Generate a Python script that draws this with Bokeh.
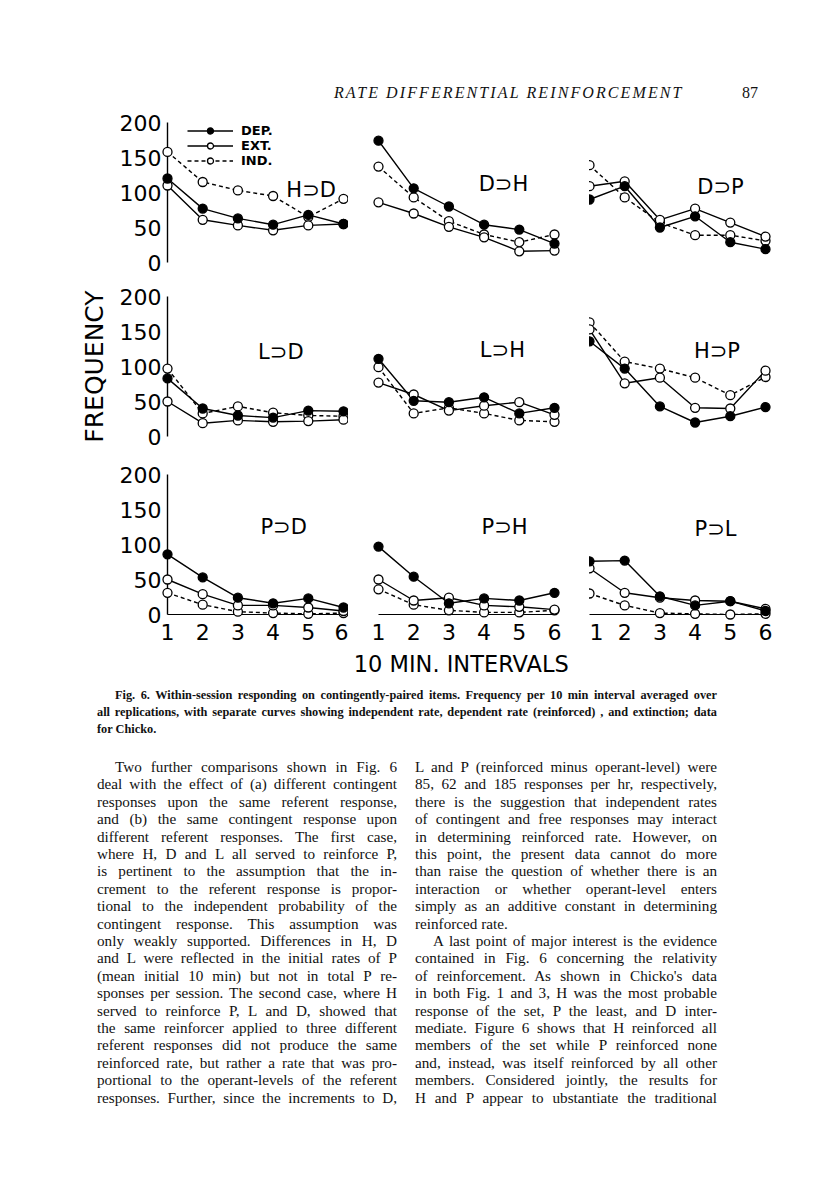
from html import escape
from bokeh.plotting import figure
from bokeh.layouts import column, row
from bokeh.models import Div, Range1d, FixedTicker, Legend, LegendItem, Label, LinearAxis
from bokeh.core.properties import value
from bokeh.embed import file_html
from bokeh.resources import INLINE

# ---------------- data ----------------
intervals = [1, 2, 3, 4, 5, 6]
y_ticks = [0, 50, 100, 150, 200]
series_names = ["DEP.", "EXT.", "IND."]

hd_dep = [120, 77, 63, 54, 68, 55]
hd_ext = [110, 61, 53, 46, 53, 55]
hd_ind = [158, 115, 103, 95, 65, 91]

dh_dep = [174, 106, 80, 54, 47, 27]
dh_ext = [86, 70, 51, 36, 16, 17]
dh_ind = [137, 93, 59, 40, 29, 40]

dp_dep = [90, 109, 50, 66, 29, 19]
dp_ext = [109, 116, 61, 77, 57, 37]
dp_ind = [139, 93, 57, 39, 39, 31]

ld_dep = [83, 40, 30, 27, 37, 36]
ld_ext = [50, 19, 23, 21, 22, 24]
ld_ind = [97, 33, 43, 34, 30, 29]

lh_dep = [111, 51, 49, 56, 33, 41]
lh_ext = [77, 60, 37, 44, 49, 31]
lh_ind = [99, 33, 41, 33, 23, 21]

hp_dep = [136, 97, 43, 20, 29, 42]
hp_ext = [153, 76, 84, 41, 40, 94]
hp_ind = [163, 107, 97, 84, 59, 85]

pd_dep = [86, 53, 24, 16, 23, 10]
pd_ext = [50, 29, 13, 13, 10, 5]
pd_ind = [31, 14, 4, 2, 1, 2]

ph_dep = [97, 54, 16, 23, 20, 31]
ph_ext = [50, 20, 24, 13, 11, 7]
ph_ind = [36, 14, 6, 3, 3, 6]

pl_dep = [76, 77, 26, 13, 19, 5]
pl_ext = [66, 31, 24, 20, 19, 8]
pl_ind = [30, 13, 2, 1, 0, 1]

panel_titles = [["H⊃D", "D⊃H", "D⊃P"],
                ["L⊃D", "L⊃H", "H⊃P"],
                ["P⊃D", "P⊃H", "P⊃L"]]
panel_series = [[(hd_dep, hd_ext, hd_ind), (dh_dep, dh_ext, dh_ind), (dp_dep, dp_ext, dp_ind)],
                [(ld_dep, ld_ext, ld_ind), (lh_dep, lh_ext, lh_ind), (hp_dep, hp_ext, hp_ind)],
                [(pd_dep, pd_ext, pd_ind), (ph_dep, ph_ext, ph_ind), (pl_dep, pl_ext, pl_ind)]]

header_text = "RATE DIFFERENTIAL REINFORCEMENT"
page_number = "87"
y_label = "FREQUENCY"
x_label = "10 MIN. INTERVALS"

caption_lines = [
    "Fig. 6. Within-session responding on contingently-paired items. Frequency per 10 min interval averaged over",
    "all replications, with separate curves showing independent rate, dependent rate (reinforced) , and extinction; data",
    "for Chicko.",
]

left_lines = [
    "Two further comparisons shown in Fig. 6",
    "deal with the effect of (a) different contingent",
    "responses upon the same referent response,",
    "and (b) the same contingent response upon",
    "different referent responses. The first case,",
    "where H, D and L all served to reinforce P,",
    "is pertinent to the assumption that the in-",
    "crement to the referent response is propor-",
    "tional to the independent probability of the",
    "contingent response. This assumption was",
    "only weakly supported. Differences in H, D",
    "and L were reflected in the initial rates of P",
    "(mean initial 10 min) but not in total P re-",
    "sponses per session. The second case, where H",
    "served to reinforce P, L and D, showed that",
    "the same reinforcer applied to three different",
    "referent responses did not produce the same",
    "reinforced rate, but rather a rate that was pro-",
    "portional to the operant-levels of the referent",
    "responses. Further, since the increments to D,",
]
right_lines = [
    "L and P (reinforced minus operant-level) were",
    "85, 62 and 185 responses per hr, respectively,",
    "there is the suggestion that independent rates",
    "of contingent and free responses may interact",
    "in determining reinforced rate. However, on",
    "this point, the present data cannot do more",
    "than raise the question of whether there is an",
    "interaction or whether operant-level enters",
    "simply as an additive constant in determining",
    "reinforced rate.",
    "A last point of major interest is the evidence",
    "contained in Fig. 6 concerning the relativity",
    "of reinforcement. As shown in Chicko's data",
    "in both Fig. 1 and 3, H was the most probable",
    "response of the set, P the least, and D inter-",
    "mediate. Figure 6 shows that H reinforced all",
    "members of the set while P reinforced none",
    "and, instead, was itself reinforced by all other",
    "members. Considered jointly, the results for",
    "H and P appear to ubstantiate the traditional",
]

# ---------------- layout / style ----------------
SANS = "DejaVu Sans"
SERIF = "Liberation Serif"
FW, FH = 176, 140
left_b = [167, 30, 0]
right_b = [5, 35, 20]
top_b = [23, 20, 24]
bot_b = [14, 14, 74]
label_pos = [[(5.08, 104), (4.55, 112), (4.72, 108)],
             [(4.22, 121), (4.52, 124), (4.62, 122)],
             [(4.30, 125), (4.58, 125), (4.58, 122)]]
DIV_HOST = {"line-height": "0px", "font-size": "0px", "display": "block", "overflow": "visible"}


def make_panel(r, c):
    p = figure(frame_width=FW, frame_height=FH,
               x_range=Range1d(1, 6), y_range=Range1d(0, 200),
               output_backend="svg", toolbar_location=None, title=None,
               x_axis_location=None, y_axis_location=None,
               min_border_left=left_b[c], min_border_right=right_b[c],
               min_border_top=top_b[r], min_border_bottom=bot_b[r],
               background_fill_color="white", border_fill_color="white")
    p.outline_line_color = None
    p.grid.grid_line_color = None

    dep, ext, ind = panel_series[r][c]
    rends = []
    for ys, dash in ((dep, "solid"), (ext, "solid"), (ind, "4 3")):
        ln = p.line(intervals, ys, line_color="black", line_width=1.4, line_dash=dash)
        rends.append(ln)
    scs = []
    for ys, fill in ((ind, "white"), (ext, "white"), (dep, "black")):
        sc = p.scatter(intervals, ys, marker="circle", size=9, fill_color=fill,
                       line_color="black", line_width=1.3, level="overlay")
        scs.append(sc)
    scs = scs[::-1]  # dep, ext, ind

    if c == 0:
        ax = LinearAxis(ticker=FixedTicker(ticks=y_ticks), bounds=(0, 200),
                        major_tick_in=0, major_tick_out=0, minor_tick_in=0, minor_tick_out=0,
                        axis_line_width=1.4, axis_line_color="black",
                        major_label_text_font=SANS, major_label_text_font_size="22px",
                        major_label_text_color="black", major_label_standoff=6)
        if r == 1:
            ax.axis_label = y_label
            ax.axis_label_text_font = SANS
            ax.axis_label_text_font_size = "25px"
            ax.axis_label_text_font_style = "normal"
            ax.axis_label_text_color = "black"
            ax.axis_label_standoff = 8
        p.add_layout(ax, "left")
    if r == 2:
        bx = LinearAxis(ticker=FixedTicker(ticks=intervals), bounds=(1, 6),
                        major_tick_in=0, major_tick_out=0, minor_tick_in=0, minor_tick_out=0,
                        axis_line_width=1.2, axis_line_color="black",
                        major_label_text_font=SANS, major_label_text_font_size="22px",
                        major_label_text_color="black", major_label_standoff=9)
        p.add_layout(bx, "below")
        if c == 1:
            p.text(x=[3.35], y=[-71], text=[x_label], text_font=value(SANS),
                   text_font_size="22.5px", text_align="center", text_baseline="middle",
                   text_color="black", level="overlay")

    lx, ly = label_pos[r][c]
    p.add_layout(Label(x=lx, y=ly, text=panel_titles[r][c], text_font=SANS,
                       text_font_size="21px", text_align="center",
                       text_baseline="middle", text_color="black"))

    if r == 0 and c == 0:
        items = [LegendItem(label=series_names[i], renderers=[rends[i], scs[i]]) for i in range(3)]
        lg = Legend(items=items, location=(20, 94), padding=0, spacing=0, margin=0,
                    glyph_width=46, glyph_height=15, label_height=15, label_width=40,
                    label_standoff=8,
                    label_text_font=SANS, label_text_font_size="13px",
                    label_text_font_style="bold", label_text_color="black",
                    border_line_color=None, background_fill_alpha=0)
        p.add_layout(lg)
    return p


rows = []
for r in range(3):
    rows.append(row([make_panel(r, c) for c in range(3)], spacing=0))

header = Div(width=800, height=89, styles=DIV_HOST, text=(
    '<div style="position:relative;width:800px;height:89px;">'
    f'<div style="position:absolute;left:329px;top:80px;font-family:\'{SERIF}\';font-style:italic;'
    f'font-size:16px;line-height:16px;letter-spacing:2.1px;color:#111;white-space:nowrap;">{escape(header_text)}</div>'
    f'<div style="position:absolute;left:737px;top:80px;font-family:\'{SERIF}\';'
    f'font-size:16px;line-height:16px;color:#111;">{escape(page_number)}</div>'
    '</div>'))


def lines_html(lines, starts, ends, left, width, lh, top0=0.0):
    out = []
    for i, t in enumerate(lines):
        ind = 18 if i in starts else 0
        last = "left" if i in ends else "justify"
        out.append(f'<div style="position:absolute;left:{left + ind}px;top:{top0 + i * lh:.1f}px;'
                   f'width:{width - ind}px;height:{lh}px;line-height:{lh}px;white-space:nowrap;'
                   f'text-align:justify;text-align-last:{last};">{escape(t)}</div>')
    return "".join(out)


caption = Div(width=800, height=55, styles=DIV_HOST, text=(
    f'<div style="position:relative;width:800px;height:55px;font-family:\'{SERIF}\';'
    f'font-size:12.3px;font-weight:bold;color:#111;">'
    + lines_html(caption_lines, {0}, {2}, 92, 620, 17, -6.5) +
    '</div>'))

body = Div(width=800, height=425, styles=DIV_HOST, text=(
    f'<div style="position:relative;width:800px;height:425px;font-family:\'{SERIF}\';'
    f'font-size:15.2px;color:#111;">'
    + lines_html(left_lines, {0}, set(), 92, 300, 17.4)
    + lines_html(right_lines, {10}, {9}, 410, 302, 17.4) +
    '</div>'))

layout = column([header] + rows + [caption, body], spacing=0)

open("out.html", "w").write(file_html(layout, INLINE))
